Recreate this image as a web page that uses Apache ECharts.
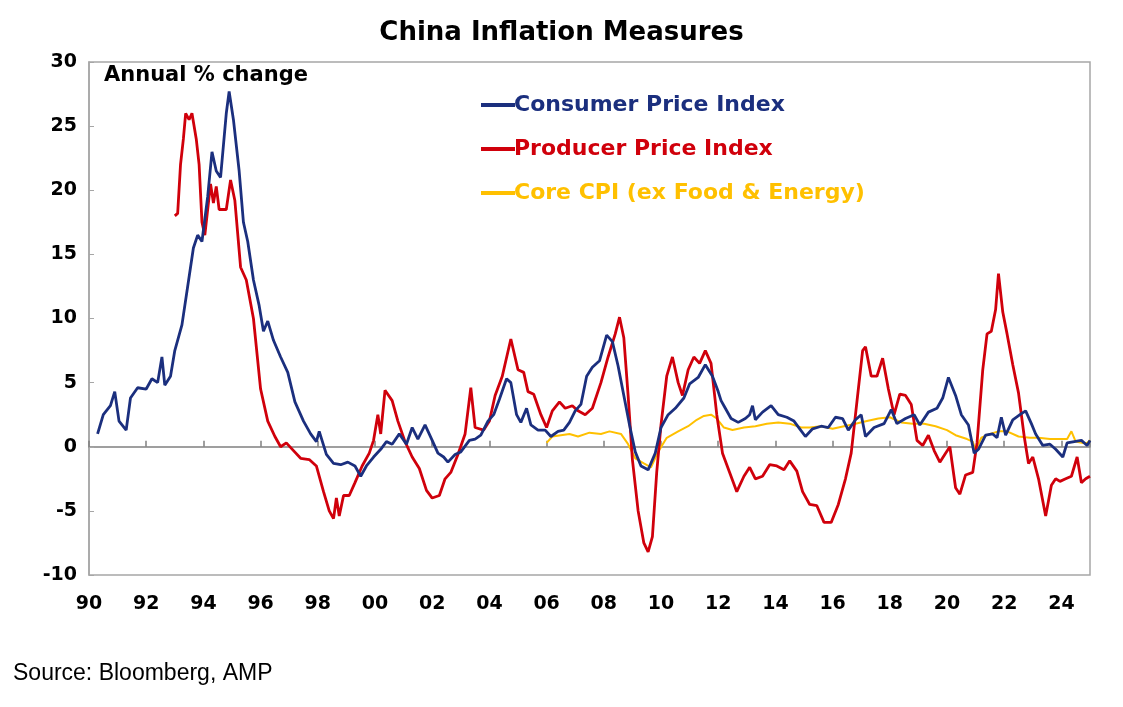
<!DOCTYPE html>
<html>
<head>
<meta charset="utf-8">
<script src="https://cdn.jsdelivr.net/npm/echarts@6/dist/echarts.min.js"></script>
<style>
  html, body { margin: 0; padding: 0; background: #fff; }
  #chart { width: 1123px; height: 707px; }
</style>
</head>
<body>
<div id="chart"></div>
<script>
// data: [year, annual % change]
const cpi = [
  [1990.3, 1.0], [1990.5, 2.5], [1990.75, 3.2], [1990.9, 4.3], [1991.05, 2.0], [1991.3, 1.3],
  [1991.45, 3.8], [1991.7, 4.6], [1992.0, 4.5], [1992.2, 5.3], [1992.4, 5.0], [1992.55, 7.0],
  [1992.65, 4.8], [1992.85, 5.5], [1993.0, 7.5], [1993.25, 9.5], [1993.45, 12.5], [1993.65, 15.5],
  [1993.8, 16.5], [1993.95, 16.0], [1994.15, 19.5], [1994.3, 23.0], [1994.45, 21.5], [1994.6, 21.0],
  [1994.8, 26.0], [1994.9, 27.7], [1995.05, 25.5], [1995.25, 21.5], [1995.4, 17.5], [1995.55, 16.0],
  [1995.75, 13.0], [1995.95, 11.0], [1996.1, 9.0], [1996.25, 9.8], [1996.45, 8.3], [1996.7, 7.0],
  [1996.95, 5.8], [1997.2, 3.5], [1997.5, 2.0], [1997.75, 1.0], [1997.95, 0.4], [1998.05, 1.2],
  [1998.3, -0.6], [1998.55, -1.3], [1998.8, -1.4], [1999.05, -1.2], [1999.3, -1.5], [1999.5, -2.3],
  [1999.7, -1.5], [1999.95, -0.8], [2000.2, -0.2], [2000.4, 0.4], [2000.6, 0.2], [2000.85, 1.0],
  [2001.1, 0.2], [2001.3, 1.5], [2001.5, 0.6], [2001.75, 1.7], [2002.0, 0.5], [2002.2, -0.5],
  [2002.4, -0.8], [2002.55, -1.2], [2002.8, -0.6], [2003.0, -0.4], [2003.3, 0.5], [2003.5, 0.6],
  [2003.7, 0.9], [2003.95, 2.0], [2004.15, 2.5], [2004.35, 3.7], [2004.6, 5.3], [2004.75, 5.0],
  [2004.95, 2.5], [2005.1, 1.9], [2005.3, 3.0], [2005.45, 1.7], [2005.7, 1.3], [2005.95, 1.3],
  [2006.15, 0.8], [2006.4, 1.2], [2006.6, 1.3], [2006.8, 1.9], [2007.0, 2.8], [2007.2, 3.3],
  [2007.4, 5.5], [2007.6, 6.2], [2007.85, 6.7], [2008.1, 8.7], [2008.3, 8.2], [2008.5, 6.3],
  [2008.7, 4.0], [2008.9, 1.7], [2009.1, -0.4], [2009.3, -1.5], [2009.55, -1.8], [2009.8, -0.5],
  [2010.0, 1.5], [2010.25, 2.5], [2010.5, 3.0], [2010.8, 3.8], [2011.0, 4.9], [2011.3, 5.4],
  [2011.55, 6.4], [2011.8, 5.5], [2012.0, 4.3], [2012.1, 3.6], [2012.2, 3.2], [2012.45, 2.2],
  [2012.7, 1.9], [2012.95, 2.2], [2013.1, 2.5], [2013.2, 3.2], [2013.3, 2.1], [2013.55, 2.7],
  [2013.85, 3.2], [2014.1, 2.5], [2014.4, 2.3], [2014.65, 2.0], [2014.85, 1.4], [2015.05, 0.8],
  [2015.3, 1.4], [2015.6, 1.6], [2015.85, 1.5], [2016.1, 2.3], [2016.35, 2.2], [2016.55, 1.3],
  [2016.8, 2.1], [2017.0, 2.5], [2017.15, 0.8], [2017.45, 1.5], [2017.8, 1.8], [2018.05, 2.9],
  [2018.25, 1.8], [2018.55, 2.2], [2018.85, 2.5], [2019.05, 1.7], [2019.35, 2.7], [2019.65, 3.0],
  [2019.85, 3.8], [2020.05, 5.4], [2020.3, 4.0], [2020.5, 2.5], [2020.75, 1.7], [2020.95, -0.5],
  [2021.1, -0.2], [2021.35, 0.9], [2021.6, 1.0], [2021.75, 0.7], [2021.9, 2.3], [2022.05, 0.9],
  [2022.3, 2.1], [2022.55, 2.5], [2022.75, 2.8], [2022.95, 1.8], [2023.1, 1.0], [2023.35, 0.1],
  [2023.6, 0.2], [2023.8, -0.2], [2024.05, -0.8], [2024.2, 0.3], [2024.45, 0.4], [2024.7, 0.5],
  [2024.9, 0.1], [2025.0, 0.5]
];

const ppi = [
  [1993.0, 18.0], [1993.1, 18.2], [1993.2, 22.0], [1993.3, 24.0], [1993.38, 26.0], [1993.5, 25.5],
  [1993.6, 26.0], [1993.75, 24.0], [1993.85, 22.0], [1993.95, 17.5], [1994.05, 16.5], [1994.25, 20.5],
  [1994.35, 19.0], [1994.45, 20.3], [1994.55, 18.5], [1994.8, 18.5], [1994.95, 20.8], [1995.1, 19.2],
  [1995.3, 14.0], [1995.5, 13.0], [1995.75, 10.0], [1996.0, 4.5], [1996.25, 2.0], [1996.5, 0.8],
  [1996.7, 0.0], [1996.9, 0.3], [1997.15, -0.3], [1997.4, -0.9], [1997.7, -1.0], [1997.95, -1.5],
  [1998.2, -3.5], [1998.4, -5.0], [1998.55, -5.6], [1998.65, -4.0], [1998.75, -5.4], [1998.9, -3.8],
  [1999.1, -3.8], [1999.3, -2.8], [1999.55, -1.5], [1999.8, -0.5], [1999.95, 0.5], [2000.1, 2.5],
  [2000.2, 1.0], [2000.35, 4.4], [2000.6, 3.6], [2000.8, 2.0], [2001.05, 0.4], [2001.3, -0.8],
  [2001.55, -1.7], [2001.8, -3.4], [2002.0, -4.0], [2002.25, -3.8], [2002.45, -2.5], [2002.65, -2.0],
  [2002.9, -0.6], [2003.15, 1.0], [2003.35, 4.6], [2003.5, 1.5], [2003.8, 1.3], [2004.0, 2.0],
  [2004.2, 4.0], [2004.45, 5.5], [2004.75, 8.4], [2005.0, 6.0], [2005.2, 5.8], [2005.35, 4.3],
  [2005.55, 4.1], [2005.8, 2.5], [2006.0, 1.5], [2006.2, 2.8], [2006.45, 3.5], [2006.65, 3.0],
  [2006.9, 3.2], [2007.1, 2.8], [2007.35, 2.5], [2007.6, 3.0], [2007.9, 5.0], [2008.15, 7.0],
  [2008.4, 8.8], [2008.55, 10.1], [2008.7, 8.5], [2008.85, 4.0], [2009.0, -1.0], [2009.2, -5.0],
  [2009.4, -7.5], [2009.55, -8.2], [2009.7, -7.0], [2009.85, -2.0], [2010.0, 1.7], [2010.2, 5.5],
  [2010.4, 7.0], [2010.6, 5.0], [2010.75, 4.0], [2010.95, 6.0], [2011.15, 7.0], [2011.35, 6.5],
  [2011.55, 7.5], [2011.75, 6.5], [2011.95, 2.5], [2012.15, -0.5], [2012.4, -2.0], [2012.65, -3.5],
  [2012.9, -2.3], [2013.1, -1.6], [2013.3, -2.5], [2013.55, -2.3], [2013.8, -1.4], [2014.05, -1.5],
  [2014.3, -1.8], [2014.5, -1.1], [2014.75, -1.9], [2014.95, -3.5], [2015.2, -4.5], [2015.45, -4.6],
  [2015.7, -5.9], [2015.95, -5.9], [2016.2, -4.5], [2016.45, -2.5], [2016.65, -0.5], [2016.85, 3.5],
  [2017.05, 7.5], [2017.15, 7.8], [2017.35, 5.5], [2017.55, 5.5], [2017.75, 6.9], [2017.95, 4.5],
  [2018.15, 2.5], [2018.35, 4.1], [2018.55, 4.0], [2018.75, 3.3], [2018.95, 0.5], [2019.15, 0.1],
  [2019.35, 0.9], [2019.55, -0.3], [2019.75, -1.2], [2019.95, -0.5], [2020.1, 0.0], [2020.3, -3.2],
  [2020.45, -3.7], [2020.65, -2.2], [2020.9, -2.0], [2021.05, 0.3], [2021.25, 6.0], [2021.4, 8.8],
  [2021.55, 9.0], [2021.7, 10.7], [2021.8, 13.5], [2021.95, 10.5], [2022.1, 8.8], [2022.3, 6.4],
  [2022.5, 4.2], [2022.7, 0.8], [2022.85, -1.3], [2023.0, -0.8], [2023.2, -2.5], [2023.45, -5.4],
  [2023.65, -3.0], [2023.8, -2.5], [2023.95, -2.7], [2024.15, -2.5], [2024.35, -2.3], [2024.55, -0.8],
  [2024.7, -2.8], [2024.85, -2.5], [2025.0, -2.3]
];

const coreCpi = [
  [2006.0, 0.3], [2006.2, 0.8], [2006.5, 0.9], [2006.8, 1.0], [2007.1, 0.8], [2007.5, 1.1],
  [2007.9, 1.0], [2008.2, 1.2], [2008.6, 1.0], [2008.85, 0.2], [2009.1, -0.9], [2009.4, -1.3],
  [2009.65, -1.6], [2009.9, -0.4], [2010.2, 0.7], [2010.6, 1.2], [2010.95, 1.6], [2011.25, 2.1],
  [2011.5, 2.4], [2011.75, 2.5], [2011.95, 2.2], [2012.2, 1.5], [2012.5, 1.3], [2012.9, 1.5],
  [2013.3, 1.6], [2013.7, 1.8], [2014.1, 1.9], [2014.5, 1.8], [2014.9, 1.5], [2015.2, 1.5],
  [2015.6, 1.6], [2016.0, 1.4], [2016.4, 1.6], [2016.8, 1.8], [2017.2, 2.0], [2017.6, 2.2],
  [2018.0, 2.3], [2018.4, 1.9], [2018.8, 1.8], [2019.2, 1.8], [2019.6, 1.6], [2020.0, 1.3],
  [2020.3, 0.9], [2020.7, 0.6], [2020.9, 0.4], [2021.0, -0.3], [2021.2, 0.7], [2021.5, 1.0],
  [2021.8, 1.2], [2022.1, 1.2], [2022.5, 0.8], [2022.9, 0.7], [2023.2, 0.7], [2023.6, 0.6],
  [2023.9, 0.6], [2024.2, 0.6], [2024.35, 1.2], [2024.5, 0.4], [2024.75, 0.3], [2024.9, 0.3],
  [2025.0, 0.5]
];

const yTicks = [-10, -5, 0, 5, 10, 15, 20, 25, 30];

const chart = echarts.init(document.getElementById('chart'));

const NAVY = '#1b2f7e';
const RED = '#d0000b';
const GOLD = '#ffc000';
const FONT = 'Liberation Sans, Arial, sans-serif';
const WIDE = 'DejaVu Sans, Verdana, sans-serif';

chart.setOption({
  animation: false,
  title: {
    text: 'China Inflation Measures',
    left: 'center',
    top: 15,
    textStyle: { fontFamily: WIDE, fontSize: 26, fontWeight: 'bold', color: '#000' }
  },
  legend: {
    orient: 'vertical',
    left: 476,
    top: 89,
    itemGap: 22,
    itemWidth: 34,
    itemHeight: 4,
    icon: 'rect',
    textStyle: { fontFamily: WIDE, fontSize: 22, fontWeight: 'bold', padding: [0, 0, 0, -6] },
    data: [
      { name: 'Consumer Price Index', textStyle: { color: NAVY } },
      { name: 'Producer Price Index', textStyle: { color: RED } },
      { name: 'Core CPI (ex Food & Energy)', textStyle: { color: GOLD } }
    ]
  },
  grid: {
    left: 89, right: 33, top: 62, bottom: 132,
    show: true, borderColor: '#a6a6a6', borderWidth: 1.5
  },
  xAxis: [
    {
      type: 'value', min: 1990, max: 2025, interval: 2,
      position: 'bottom',
      axisLine: { show: false, onZero: false },
      axisTick: { show: false },
      splitLine: { show: false },
      axisLabel: {
        margin: 20,
        fontFamily: WIDE, fontSize: 19, fontWeight: 'bold', color: '#000',
        formatter: v => String(v % 100).padStart(2, '0'),
        showMaxLabel: false
      }
    },
    {
      type: 'value', min: 1990, max: 2025, interval: 2,
      axisLine: { show: true, onZero: true, lineStyle: { color: '#808080', width: 1.5 } },
      axisTick: { show: true, inside: false, length: 6, lineStyle: { color: '#808080', width: 1.5 } },
      axisLabel: { show: false },
      splitLine: { show: false }
    }
  ],
  yAxis: {
    type: 'value', min: yTicks[0], max: yTicks[yTicks.length - 1], interval: 5,
    axisLine: { show: true, lineStyle: { color: '#a6a6a6', width: 1.5 } },
    axisTick: { show: true, inside: true, length: 5, lineStyle: { color: '#a6a6a6' } },
    splitLine: { show: false },
    axisLabel: { fontFamily: WIDE, fontSize: 19, fontWeight: 'bold', color: '#000', margin: 12 }
  },
  series: [
    {
      name: 'Consumer Price Index', type: 'line', data: cpi, showSymbol: false,
      lineStyle: { color: NAVY, width: 2.8 }, itemStyle: { color: NAVY }, z: 4
    },
    {
      name: 'Producer Price Index', type: 'line', data: ppi, showSymbol: false,
      lineStyle: { color: RED, width: 2.8 }, itemStyle: { color: RED }, z: 3
    },
    {
      name: 'Core CPI (ex Food & Energy)', type: 'line', data: coreCpi, showSymbol: false,
      lineStyle: { color: GOLD, width: 2 }, itemStyle: { color: GOLD }, z: 2
    }
  ],
  graphic: [
    {
      type: 'text', left: 104, top: 65,
      style: { text: 'Annual % change', fontFamily: WIDE, fontSize: 21, fontWeight: 'bold', fill: '#000' }
    },
    {
      type: 'text', left: 13, top: 662,
      style: { text: 'Source: Bloomberg, AMP', fontFamily: FONT, fontSize: 23, fill: '#000' }
    }
  ]
});
</script>
</body>
</html>
